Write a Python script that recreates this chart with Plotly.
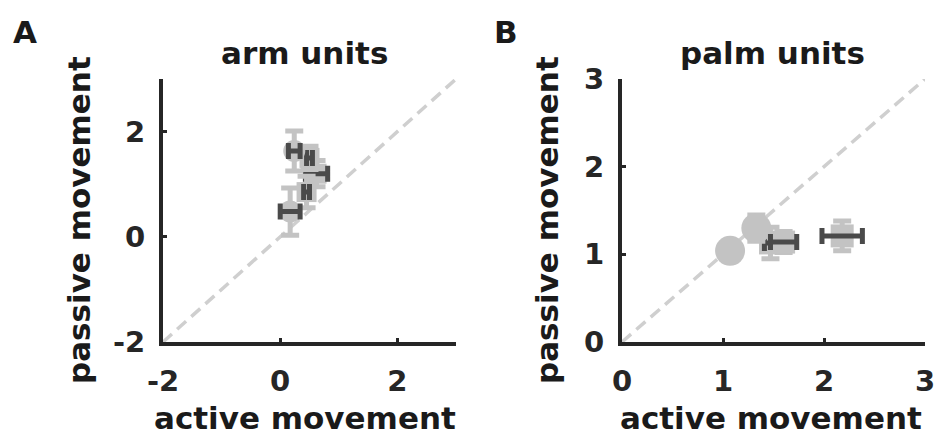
import plotly.graph_objects as go

# ---- data -------------------------------------------------------------
# arm units (panel A): mean modulation during active vs passive movement
arm_active = [0.62, 0.45, 0.17, 0.50, 0.24]
arm_passive = [1.20, 0.85, 0.48, 1.50, 1.63]
arm_active_err = [0.19, 0.05, 0.17, 0.05, 0.10]
arm_passive_err = [0.25, 0.30, 0.45, 0.22, 0.38]
arm_symbols = ["square", "square", "circle", "square", "circle"]

# palm units (panel B)
palm_active = [1.47, 1.33, 1.07, 1.60, 2.18]
palm_passive = [1.13, 1.30, 1.04, 1.14, 1.21]
palm_active_err = [0.06, 0.0, 0.0, 0.13, 0.20]
palm_passive_err = [0.18, 0.15, 0.0, 0.12, 0.17]
palm_symbols = ["square", "circle", "circle", "square", "square"]

arm_ticks = [-2, 0, 2]
arm_ticktext = ["-2", "0", "2"]
palm_ticks = [0, 1, 2, 3]
palm_ticktext = ["0", "1", "2", "3"]
arm_range = [-2, 3]
palm_range = [0, 3]

LIGHT = "#c3c3c3"
DARK = "#4a4a4a"
AXIS = "#262626"
DIAG = "#cfcfcf"
FONT = "DejaVu Sans"

W, H = 935, 436


def px(x):
    return x / W


def py(y):
    return 1 - y / H


fig = go.Figure()


def add_panel(xs, ys, xe, ye, syms, rng, xa, ya, circle_size, square_size):
    # identity line
    fig.add_trace(go.Scatter(
        x=rng, y=rng, mode="lines", xaxis=xa, yaxis=ya,
        line=dict(color=DIAG, width=3.5, dash="12px,7px"),
        hoverinfo="skip", showlegend=False))
    # one unit at a time so later units sit on top of earlier ones
    for x, y, ex, ey, s in zip(xs, ys, xe, ye, syms):
        size = circle_size if s == "circle" else square_size
        fig.add_trace(go.Scatter(
            x=[x], y=[y], mode="markers", xaxis=xa, yaxis=ya,
            marker=dict(symbol=s, size=size, color=LIGHT, line=dict(width=0)),
            error_y=dict(type="data", array=[ey], color=LIGHT,
                         thickness=5, width=9, visible=ey > 0),
            showlegend=False))
        if ex > 0:
            fig.add_trace(go.Scatter(
                x=[x], y=[y], mode="markers", xaxis=xa, yaxis=ya,
                marker=dict(size=1, opacity=0),
                error_x=dict(type="data", array=[ex], color=DARK,
                             thickness=5, width=8),
                showlegend=False))


add_panel(arm_active, arm_passive, arm_active_err, arm_passive_err,
          arm_symbols, arm_range, "x", "y", 22, 20)
add_panel(palm_active, palm_passive, palm_active_err, palm_passive_err,
          palm_symbols, palm_range, "x2", "y2", 30, 23)

tickfont = dict(family=FONT, size=29, color=AXIS, weight="bold")
common = dict(showgrid=False, zeroline=False, showline=True, linewidth=4,
              linecolor=AXIS, ticks="inside", ticklen=4, tickwidth=3,
              tickcolor=AXIS, tickfont=tickfont, automargin=False,
              ticklabeloverflow="allow")

ydom = [py(342), py(79)]
fig.update_layout(
    width=W, height=H,
    margin=dict(l=0, r=0, t=0, b=0, autoexpand=False),
    paper_bgcolor="white", plot_bgcolor="white",
    xaxis=dict(domain=[px(163), px(456)], range=arm_range, tickvals=arm_ticks,
               ticktext=arm_ticktext, anchor="y", ticklabelstandoff=10, **common),
    yaxis=dict(domain=ydom, range=arm_range, tickvals=arm_ticks,
               ticktext=arm_ticktext, anchor="x", ticklabelstandoff=8, **common),
    xaxis2=dict(domain=[px(622), px(925)], range=palm_range, tickvals=palm_ticks,
                ticktext=palm_ticktext, anchor="y2", ticklabelstandoff=10, **common),
    yaxis2=dict(domain=ydom, range=palm_range, tickvals=palm_ticks,
                ticktext=palm_ticktext, anchor="x2", ticklabelstandoff=8, **common),
)

labfont = dict(family=FONT, size=31, color="#1a1a1a", weight="bold")
texts = [
    # panel letters
    dict(text="A", x=px(12), y=py(13), xanchor="left", yanchor="top"),
    dict(text="B", x=px(493), y=py(13), xanchor="left", yanchor="top"),
    # titles
    dict(text="arm units", x=px(304), y=py(72), xanchor="center", yanchor="bottom"),
    dict(text="palm units", x=px(772), y=py(72), xanchor="center", yanchor="bottom"),
    # x labels
    dict(text="active movement", x=px(305), y=py(437), xanchor="center", yanchor="bottom"),
    dict(text="active movement", x=px(771), y=py(437), xanchor="center", yanchor="bottom"),
    # y labels
    dict(text="passive movement", x=px(98), y=py(220), xanchor="right",
         yanchor="middle", textangle=-90),
    dict(text="passive movement", x=px(566), y=py(220), xanchor="right",
         yanchor="middle", textangle=-90),
]
for t in texts:
    fig.add_annotation(xref="paper", yref="paper", showarrow=False,
                       font=labfont, borderpad=0, **t)

fig.write_html("out.html")
